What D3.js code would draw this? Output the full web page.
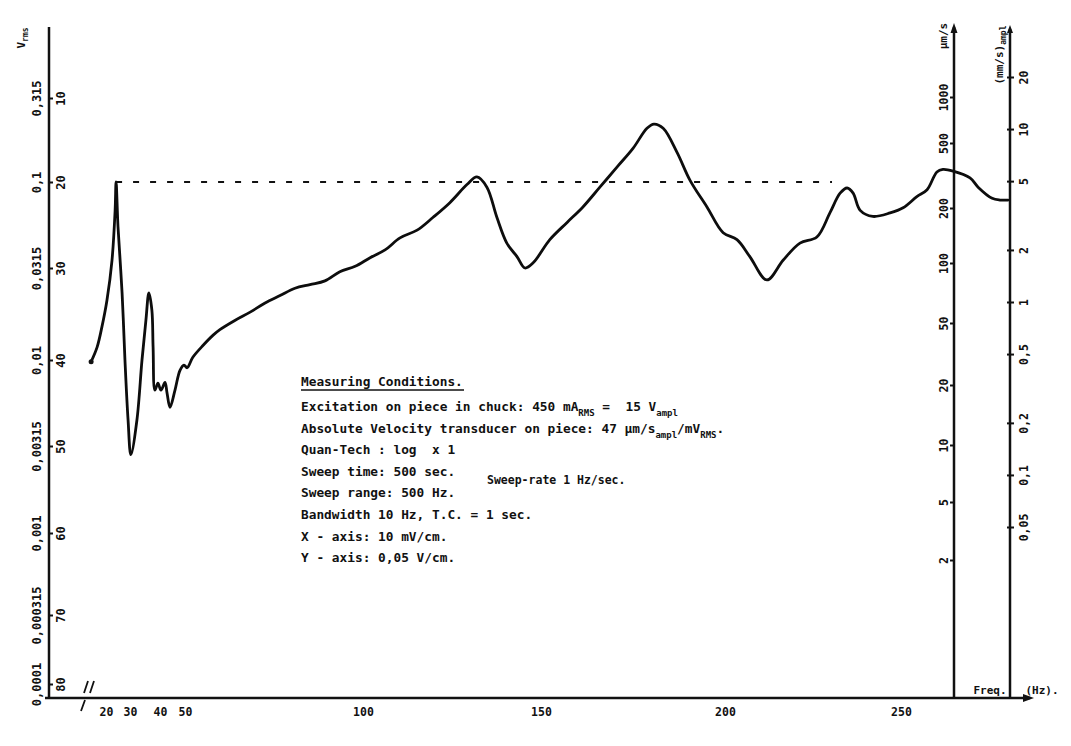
<!DOCTYPE html>
<html>
<head>
<meta charset="utf-8">
<script src="https://cdn.jsdelivr.net/npm/d3@7"></script>
<style>
  body { margin: 0; background: #fff; }
  svg { display: block; }
  text { font-family: "DejaVu Sans Mono", "Liberation Mono", monospace; font-weight: bold; fill: #111; white-space: pre; }
</style>
</head>
<body>
<svg id="chart" width="1071" height="746"></svg>
<script>
// response curve: frequency (Hz), level (dB below 1 V)
const freq = [13.8, 16.3, 18.3, 20.4, 22.5, 23.8, 24.2, 25.0, 26.7, 27.9, 29.2, 30.3, 32.3, 34.0, 35.3, 36.3,
  37.3, 37.7, 38.3, 39.3, 40.4, 42.0, 42.8, 44.0, 46.0, 48.0, 49.6, 50.6, 52.2, 55.1, 57.9, 59.8,
  64.0, 68.3, 72.5, 76.7, 80.9, 85.1, 89.3, 93.5, 97.8, 102.0, 106.2, 110.4, 115.2, 119.7, 124.4, 129.2,
  132.0, 134.8, 137.6, 140.4, 143.3, 145.5, 147.8, 152.4, 157.1, 161.4, 166.0, 170.7, 175.0, 178.8, 180.7, 183.2,
  187.0, 190.5, 195.1, 199.5, 203.4, 207.1, 211.9, 216.5, 221.3, 226.1, 229.8, 232.7, 234.7, 236.4, 238.4, 242.0,
  246.9, 250.6, 254.5, 257.4, 260.2, 261.9, 264.8, 269.6, 271.9, 275.9, 278.1, 280.4];
const level = [40.2, 38.6, 36.4, 33.5, 29.1, 23.3, 20.0, 25.2, 32.7, 40.0, 47.0, 51.0, 47.0, 40.0, 35.7, 32.7,
  34.6, 38.6, 43.5, 42.7, 43.5, 42.6, 43.8, 45.5, 43.5, 41.2, 40.6, 40.9, 39.7, 38.4, 37.3, 36.7,
  35.7, 34.8, 33.8, 33.0, 32.2, 31.8, 31.4, 30.4, 29.8, 28.8, 27.9, 26.5, 25.6, 24.1, 22.4, 20.3,
  19.4, 20.6, 24.1, 27.1, 28.7, 30.0, 29.4, 26.7, 24.7, 22.9, 20.6, 18.2, 16.0, 13.6, 13.1, 13.6,
  16.5, 19.8, 22.9, 25.9, 26.7, 28.7, 31.3, 29.1, 27.1, 26.4, 23.6, 21.3, 20.7, 21.3, 23.3, 24.0,
  23.6, 23.0, 21.7, 20.9, 18.8, 18.5, 18.7, 19.5, 20.6, 21.9, 22.1, 22.1];

// reference level (dashed) and its extent in Hz
const refLevel = 20;
const refSpan = [24.2, 230.4];

// axis ticks and labels
const freqTicks = [20, 30, 40, 50, 100, 150, 200, 250];
const dbTicks = [10, 20, 30, 40, 50, 60, 70, 80];
const voltLabels = ['0,315', '0,1', '0,0315', '0,01', '0,00315', '0,001', '0,000315', '0,0001'];
const umTicks = [2, 5, 10, 20, 50, 100, 200, 500, 1000];
const mmTicks = [0.05, 0.1, 0.2, 0.5, 1, 2, 5, 10, 20];

// measuring conditions, [text, subscript?]
const title = 'Measuring Conditions.';
const conditions = [
  [['Excitation on piece in chuck: 450 mA'], ['RMS', 1], [' =  15 V'], ['ampl', 1]],
  [['Absolute Velocity transducer on piece: 47 \u00b5m/s'], ['ampl', 1], ['/mV'], ['RMS', 1], ['.']],
  [['Quan-Tech : log  x 1']],
  [['Sweep time: 500 sec.']],
  [['Sweep range: 500 Hz.']],
  [['Bandwidth 10 Hz, T.C. = 1 sec.']],
  [['X - axis: 10 mV/cm.']],
  [['Y - axis: 0,05 V/cm.']]
];
const sweepRate = 'Sweep-rate 1 Hz/sec.';

const svg = d3.select('#chart');
const x0 = 49, yBase = 698, xUm = 954, xMm = 1010, yTop = 27;

// hand-drawn chart, so the scales are piecewise through the printed ticks
const x = d3.scaleLinear().domain(freqTicks).range([106, 130, 160, 185, 363, 541, 725, 901]);
const y = d3.scaleLinear().domain(dbTicks).range([98, 182, 268, 360, 446, 533, 615, 684]);
const um = d3.scaleLog().domain(umTicks).range([560, 502, 445, 385, 323, 263, 208, 143, 97]);
const mm = d3.scaleLog().domain([0.05, 20]).range([527, 77]);

const axisStroke = g => g.selectAll('line').attr('stroke', '#111').attr('stroke-width', 2);

// rotate tick text so it reads bottom to top
const rotateText = (g, dx, size) => g.selectAll('text')
  .attr('x', 0).attr('y', 0).attr('dy', '0.35em')
  .attr('text-anchor', 'middle')
  .attr('font-size', size)
  .attr('transform', `translate(${dx},0) rotate(-90)`);

// frame lines
const frame = svg.append('g').attr('stroke', '#111').attr('stroke-width', 2.5).attr('fill', 'none');
frame.append('line').attr('x1', x0).attr('x2', x0).attr('y1', yTop).attr('y2', yBase);
frame.append('line').attr('x1', 45).attr('x2', 1030).attr('y1', yBase).attr('y2', yBase);
frame.append('line').attr('x1', xUm).attr('x2', xUm).attr('y1', yTop).attr('y2', yBase);
frame.append('line').attr('x1', xMm).attr('x2', xMm).attr('y1', yTop + 2).attr('y2', yBase);
// axis break marks
frame.append('path').attr('stroke-width', 1.8)
  .attr('d', 'M84,693L88,681M90,693L94,681M81,711L85,700');

// arrowheads
const arrows = svg.append('g').attr('fill', '#111');
arrows.append('path').attr('d', `M1034,${yBase}l-11,-4v8z`);
arrows.append('path').attr('d', `M${xUm},${yTop - 4}l-3.5,10h7z`);
arrows.append('path').attr('d', `M${xMm},${yTop - 2}l-3,8h6z`);

// frequency axis
svg.append('g')
  .attr('transform', `translate(0,${yBase})`)
  .call(d3.axisBottom(x).tickValues(freqTicks).tickSize(0).tickPadding(10))
  .call(g => g.select('.domain').remove())
  .call(g => g.selectAll('text').attr('font-size', 11.5).attr('font-family', null));

// left: dB inside, volts outside
svg.append('g')
  .attr('transform', `translate(${x0},0)`)
  .call(d3.axisRight(y).tickValues(dbTicks).tickSize(4))
  .call(g => g.select('.domain').remove())
  .call(axisStroke)
  .call(g => rotateText(g, 12, 12));

svg.append('g')
  .attr('transform', `translate(${x0},0)`)
  .call(d3.axisLeft(y).tickValues(dbTicks).tickSize(0).tickFormat((d, i) => voltLabels[i]))
  .call(g => g.select('.domain').remove())
  .call(g => rotateText(g, -12, 12));

// right: um/s and mm/s scales
svg.append('g')
  .attr('transform', `translate(${xUm},0)`)
  .call(d3.axisLeft(um).tickValues(umTicks).tickSize(4).tickFormat(d3.format('d')))
  .call(g => g.select('.domain').remove())
  .call(axisStroke)
  .call(g => rotateText(g, -10, 11.5));

svg.append('g')
  .attr('transform', `translate(${xMm},0)`)
  .call(d3.axisRight(mm).tickValues(mmTicks).tickSize(4).tickFormat(d => String(d).replace('.', ',')))
  .call(g => g.select('.domain').remove())
  .call(axisStroke)
  .call(g => g.selectAll('line').attr('x1', -3))
  .call(g => rotateText(g, 14, 11.5));

// unit labels
const unit = (tx, ty, parts) => {
  const t = svg.append('text').attr('transform', `translate(${tx},${ty}) rotate(-90)`)
    .attr('text-anchor', 'middle').attr('font-size', 11);
  parts.forEach(([s, sub]) => t.append('tspan').text(s)
    .attr('font-size', sub ? 8 : 11).attr('dy', sub ? 3 : 0));
};
unit(25, 38, [['V'], ['rms', 1]]);
unit(947, 36, [['\u00b5m/s']]);
unit(1003, 55, [['(mm/s)'], ['ampl', 1]]);

svg.append('text').attr('x', 990).attr('y', 694).attr('text-anchor', 'middle').attr('font-size', 11).text('Freq.');
svg.append('text').attr('x', 1042).attr('y', 694).attr('text-anchor', 'middle').attr('font-size', 11).text('(Hz).');

// dashed reference level
svg.append('line')
  .attr('x1', x(refSpan[0])).attr('x2', x(refSpan[1]))
  .attr('y1', y(refLevel)).attr('y2', y(refLevel))
  .attr('stroke', '#111').attr('stroke-width', 2.2)
  .attr('stroke-dasharray', '6,11');

// response curve
const pts = freq.map((f, i) => [f, level[i]]);
const line = d3.line()
  .x(d => x(d[0]))
  .y(d => y(d[1]))
  .curve(d3.curveCatmullRom.alpha(0.5));

svg.append('path')
  .datum(pts)
  .attr('d', line)
  .attr('fill', 'none')
  .attr('stroke', '#0d0d0d')
  .attr('stroke-width', 2.8)
  .attr('stroke-linejoin', 'round')
  .attr('stroke-linecap', 'round');

svg.append('circle')
  .attr('cx', x(pts[0][0])).attr('cy', y(pts[0][1])).attr('r', 2.5).attr('fill', '#111');

// measuring conditions block
const tx = 301, fs = 12.8;
svg.append('text').attr('x', tx).attr('y', 386).attr('font-size', fs).text(title);
svg.append('line').attr('x1', tx).attr('x2', tx + 163).attr('y1', 390).attr('y2', 390)
  .attr('stroke', '#111').attr('stroke-width', 1.5);

conditions.forEach((segs, i) => {
  const t = svg.append('text').attr('x', tx).attr('y', 411 + i * 21.6).attr('font-size', fs);
  let shifted = 0;
  segs.forEach(([s, sub]) => {
    const want = sub ? 5 : 0;
    t.append('tspan').text(s).attr('font-size', sub ? 9 : fs).attr('dy', want - shifted);
    shifted = want;
  });
});

svg.append('text').attr('x', 487).attr('y', 484).attr('font-size', 11.5).text(sweepRate);
</script>
</body>
</html>
